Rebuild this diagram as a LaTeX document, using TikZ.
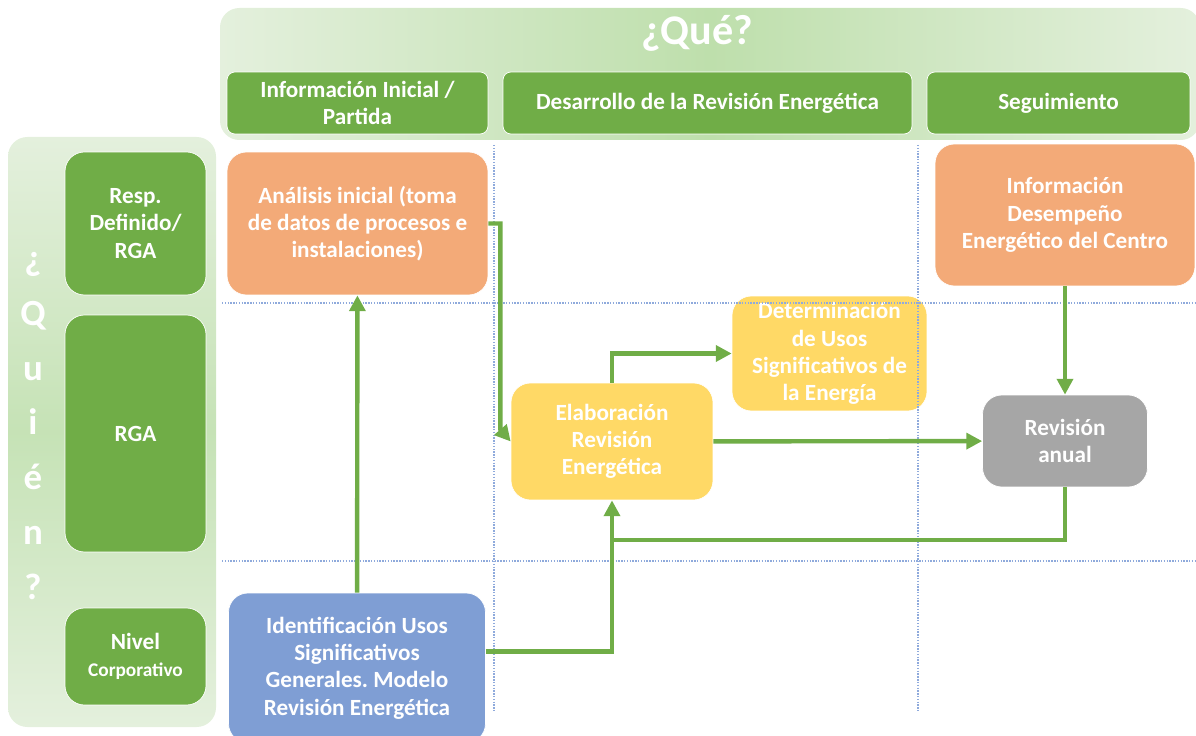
\documentclass[tikz,border=0pt]{standalone}
\usepackage{fontspec}
\setmainfont{Carlito}
\usepackage{tikz}
\usetikzlibrary{arrows.meta,positioning}
\frenchspacing

\definecolor{rolgreen}{HTML}{70AD47}
\definecolor{bglight}{HTML}{E4F0DD}
\definecolor{bgdark}{HTML}{BEDFAC}
\definecolor{tanorange}{HTML}{F3AA78}
\definecolor{softyellow}{HTML}{FFD966}
\definecolor{softblue}{HTML}{7F9ED4}
\definecolor{midgray}{HTML}{A6A6A6}
\definecolor{gridblue}{HTML}{8FAADC}

\begin{document}
\begin{tikzpicture}[x=0.02cm, y=-0.02cm,
  txt/.style={text=white, align=center, font=\bfseries\fontsize{13.2}{15.5}\selectfont},
  colbox/.style={txt, fill=rolgreen, draw=white, rounded corners=4.5pt,
                 minimum height=1.24cm, inner sep=2pt},
  rowbox/.style={txt, fill=rolgreen, draw=white, rounded corners=11pt,
                 minimum width=2.82cm, inner sep=2pt},
  stepbox/.style={txt, draw=white, rounded corners=11pt, inner sep=2pt},
  grid/.style={gridblue, line width=1.2pt, dash pattern=on 0.8pt off 0.8pt},
  arr/.style={-{Triangle[length=9pt,width=9pt]}, rolgreen, line width=2.5pt},
  link/.style={rolgreen, line width=2.5pt}
]
  \useasboundingbox (0,0) rectangle (1196,736);

  % Backgrounds
  \shade[left color=bglight, right color=bglight, middle color=bgdark, rounded corners=11pt]
    (220,8) rectangle (1200,140);
  \shade[top color=bglight, bottom color=bglight, middle color=bgdark!80!bglight, rounded corners=11pt]
    (8,137) rectangle (216,727);

  % Headers
  \node[txt, font=\bfseries\fontsize{24}{28}\selectfont] (que) at (697,33) {¿Qué?};
  \node[colbox, minimum width=5.22cm] (ini) at (357.5,103) {Información Inicial /\\Partida};
  \node[colbox, minimum width=8.18cm] (des) at (707.5,103) {Desarrollo de la Revisión Energética};
  \node[colbox, minimum width=5.26cm] (seg) at (1058.5,103) {Seguimiento};

  \node[txt, font=\bfseries\fontsize{21}{31.2}\selectfont] (quien) at (33,426)
    {¿\\Q\\u\\i\\é\\n\\?};
  \node[rowbox, minimum height=2.86cm] (resp) at (135.5,223.5) {Resp.\\Definido/\\RGA};
  \node[rowbox, minimum height=4.74cm] (rga) at (135.5,433.5) {RGA};
  \node[rowbox, minimum height=1.94cm] (corp) at (135.5,656.5)
    {Nivel\\{\fontsize{11}{14}\selectfont Corporativo}};

  % Steps
  \node[stepbox, fill=tanorange, minimum width=5.22cm, minimum height=2.86cm] (ana) at (357.5,223.5)
    {Análisis inicial (toma\\de datos de procesos e\\instalaciones)};
  \node[stepbox, fill=tanorange, minimum width=5.2cm, minimum height=2.84cm] (info) at (1065,215)
    {Información\\Desempeño\\Energético del Centro};
  \node[stepbox, fill=softyellow, minimum width=3.9cm, minimum height=2.3cm] (det) at (829.5,353.5)
    {Determinación\\de Usos\\Significativos de\\la Energía};
  \node[stepbox, fill=softyellow, minimum width=4.04cm, minimum height=2.34cm] (elab) at (612,441.5)
    {Elaboración\\Revisión\\Energética};
  \node[stepbox, fill=midgray, minimum width=3.3cm, minimum height=1.84cm] (rev) at (1065,441)
    {Revisión\\anual};
  \node[stepbox, fill=softblue, minimum width=5.14cm, minimum height=3.0cm] (ident) at (357,668)
    {Identificación Usos\\Significativos\\Generales. Modelo\\Revisión Energética};

  % Grid
  \draw[grid] (222,303) -- (1196,303);
  \draw[grid] (222,561) -- (1196,561);
  \draw[grid] (494,145) -- (494,712);
  \draw[grid] (918,145) -- (918,712);

  % Flows
  \coordinate (join) at (612,540);
  \draw[arr] (ident) -- (ana);
  \draw[arr] (ana.east) -- ++(12,0) -- ++(0,206) -- (elab.west);
  \draw[arr] (elab.north) |- (det.west);
  \draw[arr] (elab) -- (rev);
  \draw[arr] (info) -- (rev);
  \draw[link] (rev.south) |- (join);
  \draw[arr] ([yshift=9.5pt]ident.east) -| (elab.south);
\end{tikzpicture}
\end{document}
